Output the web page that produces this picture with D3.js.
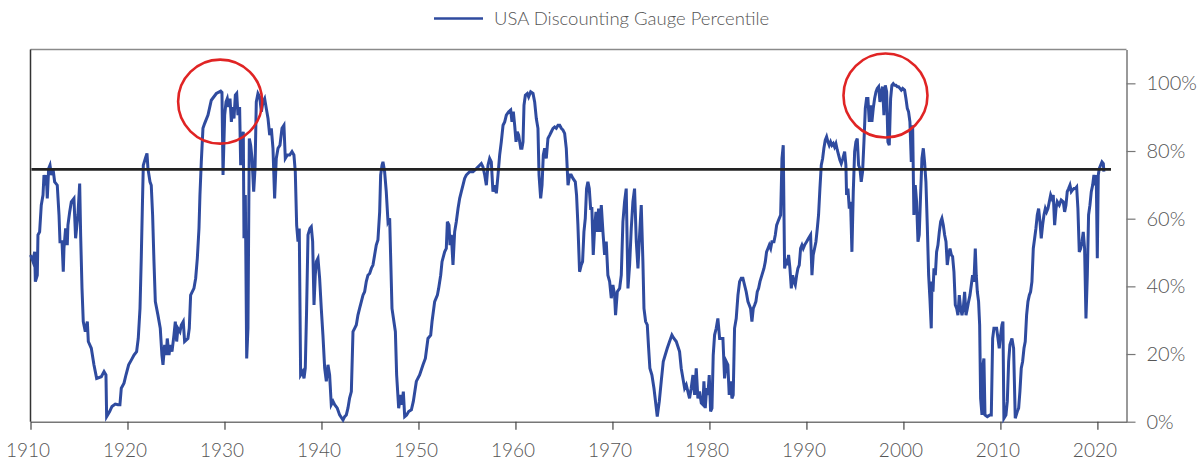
<!DOCTYPE html>
<html>
<head>
<meta charset="utf-8">
<script src="https://cdn.jsdelivr.net/npm/d3@7"></script>
<style>
  body { margin: 0; background: #fff; }
  .tick text { font-family: Lato, "Open Sans", sans-serif; font-weight: 300; fill: #555; }
</style>
</head>
<body>
<div id="gauge_chart"></div>
<script>
// data: [year, percentile]
const seg1910 = [
  [1910.01,49.3],[1910.26,47.3],[1910.43,50.2],[1910.50,41.4],[1910.70,43.3],[1910.77,55.2],[1910.94,56.1],
  [1911.11,64.0],[1911.29,67.0],[1911.39,72.9],[1911.53,69.9],[1911.63,72.9],[1911.73,66.0],[1911.87,74.8],
  [1912.01,75.8],[1912.15,72.9],[1912.32,74.8],[1912.49,70.9],[1912.76,69.9],[1912.94,61.1],[1913.04,53.2],
  [1913.25,53.2],[1913.38,44.3],[1913.45,51.2],[1913.62,57.1],[1913.79,52.2],[1913.86,58.1],[1914.04,62.0],
  [1914.21,65.0],[1914.48,66.0],[1914.65,54.2],[1914.89,61.1],[1915.07,70.4],[1915.17,55.2],[1915.31,39.4],
  [1915.44,29.6],[1915.65,26.6],[1915.86,29.6],[1915.96,23.7],[1916.27,21.7],[1916.54,16.8],[1916.82,12.8],
  [1917.30,13.3],[1917.58,14.8],[1917.78,13.8],[1917.85,1.5],[1918.16,3.0],[1918.40,4.5],[1918.74,5.2],
  [1919.02,5.0],[1919.22,5.0],[1919.36,9.9],[1919.64,11.4],[1919.84,13.8],[1920.12,16.8],[1920.39,18.2],
  [1920.67,19.7],[1920.94,20.7],[1921.11,24.6],[1921.29,33.5],[1921.42,48.3],[1921.53,63.0],[1921.63,75.8],
  [1921.84,77.8],[1922.01,79.3],[1922.11,74.8],[1922.32,70.9],[1922.45,69.9],[1922.59,61.1],[1922.73,47.3],
  [1922.87,35.5],[1923.14,31.5],[1923.38,27.6],[1923.55,19.7],[1923.66,16.8],[1923.83,22.7],[1924.00,19.7],
  [1924.10,24.6],[1924.28,19.7],[1924.41,22.7],[1924.59,20.7],[1924.79,25.6],[1924.93,29.6],[1925.07,23.7],
  [1925.20,27.6],[1925.41,26.6],[1925.55,28.6],[1925.75,29.6],[1925.89,23.7],[1926.23,24.6],[1926.37,27.6],
  [1926.51,37.4],[1926.85,39.4],[1927.03,42.4],[1927.20,48.3],[1927.37,57.1],[1927.47,67.0],[1927.61,76.8],
  [1927.78,86.7],[1927.95,88.1],[1928.30,90.6]
];

const seg1928 = [
  [1928.64,95.0],[1929.16,97.0],[1929.61,97.7],[1929.74,97.3],[1929.85,72.9],[1930.02,90.6],[1930.16,94.5],
  [1930.29,95.5],[1930.43,93.0],[1930.57,95.5],[1930.71,88.6],[1930.84,93.0],[1930.98,89.6],[1931.12,96.5],
  [1931.26,97.0],[1931.39,90.6],[1931.56,93.0],[1931.67,75.8],[1931.81,83.7],[1931.94,85.7],[1932.01,54.2],
  [1932.15,67.0],[1932.29,18.7],[1932.42,27.6],[1932.56,83.7],[1932.70,81.7],[1932.84,77.8],[1933.01,68.0],
  [1933.15,74.8],[1933.28,94.5],[1933.45,97.0],[1933.63,96.0],[1933.80,91.6],[1933.97,94.5],[1934.14,95.5],
  [1934.31,92.6],[1934.49,89.6],[1934.66,84.7],[1934.83,86.7],[1935.00,80.8],[1935.17,66.0],[1935.34,77.8],
  [1935.52,80.8],[1935.72,81.7],[1935.93,86.7],[1936.13,87.6],[1936.27,77.8],[1936.48,78.8],[1936.72,78.8],
  [1936.96,79.8],[1937.16,78.8],[1937.30,73.9],[1937.44,58.1],[1937.58,53.2],[1937.71,57.1],[1937.85,13.8],
  [1938.06,14.8],[1938.20,12.8],[1938.33,15.8],[1938.47,33.5],[1938.61,55.2],[1938.81,57.1],[1938.95,57.6],
  [1939.09,53.2],[1939.23,34.5],[1939.36,43.3],[1939.47,47.3],[1939.64,48.3],[1939.81,42.4],[1939.98,33.5],
  [1940.15,25.6],[1940.33,15.8],[1940.50,11.9],[1940.67,16.8],[1940.84,13.8],[1941.01,5.0],[1941.19,6.0],
  [1941.36,5.0],[1941.63,4.0],[1941.87,2.0],[1942.22,0.5],[1942.39,1.5],[1942.56,2.0],[1942.73,4.0],
  [1942.90,7.0],[1943.08,8.9],[1943.25,26.6],[1943.42,27.6],[1943.59,28.6],[1943.76,31.5],[1943.93,33.5],
  [1944.11,35.5],[1944.28,37.4],[1944.45,38.4],[1944.62,41.4],[1944.79,43.3],[1944.97,43.8],[1945.14,45.3],
  [1945.31,46.3],[1945.48,49.3],[1945.65,52.2],[1945.82,53.7],[1946.00,62.0],[1946.10,72.9],[1946.24,75.8],
  [1946.34,76.8],[1946.51,73.9],[1946.68,68.0],[1946.86,59.1],[1947.03,60.1]
];

const seg1947 = [
  [1947.27,33.5],[1947.62,26.6],[1947.75,13.8],[1947.96,4.0],[1948.17,7.9],[1948.30,5.0],[1948.44,8.9],
  [1948.58,1.5],[1948.78,2.0],[1948.99,3.0],[1949.27,3.5],[1949.47,6.0],[1949.78,11.9],[1950.12,13.8],
  [1950.47,16.8],[1950.71,18.7],[1950.98,24.6],[1951.26,25.6],[1951.40,29.6],[1951.67,35.5],[1951.95,37.4],
  [1952.08,39.4],[1952.29,43.3],[1952.43,47.3],[1952.70,50.2],[1952.87,51.2],[1952.98,59.1],[1953.15,58.1],
  [1953.25,52.2],[1953.39,55.2],[1953.56,46.3],[1953.73,56.1],[1953.90,59.1],[1954.08,63.0],[1954.25,66.0],
  [1954.42,68.0],[1954.59,69.9],[1954.76,71.9],[1954.93,72.9],[1955.28,73.9],[1955.62,73.9],[1955.97,74.8],
  [1956.31,75.8],[1956.48,76.3],[1956.65,75.3],[1956.83,72.9],[1957.00,69.9],[1957.17,75.8],[1957.34,77.8],
  [1957.51,76.8],[1957.68,68.0],[1957.86,69.9],[1958.03,67.5],[1958.20,72.9],[1958.37,78.8],[1958.54,82.7],
  [1958.72,87.6],[1958.89,88.6],[1959.06,90.6],[1959.30,91.6],[1959.51,92.1],[1959.64,88.6],[1959.78,91.6],
  [1959.92,87.6],[1960.06,82.7],[1960.19,85.7],[1960.33,84.7],[1960.54,80.8],[1960.67,80.8],[1960.78,82.7],
  [1960.88,93.5],[1961.02,96.5],[1961.22,97.0],[1961.36,96.0],[1961.57,97.5],[1961.81,97.0],[1961.98,94.5],
  [1962.15,89.6],[1962.32,86.7],[1962.43,72.9],[1962.60,66.0],[1962.74,69.9],[1962.87,78.8],[1963.01,80.8],
  [1963.18,77.8],[1963.35,83.7],[1963.53,84.7],[1963.70,85.7],[1963.87,86.7],[1964.04,87.1],[1964.21,86.7],
  [1964.39,87.6],[1964.56,87.6],[1964.73,86.7],[1964.90,86.2],[1965.07,85.2],[1965.24,80.8],[1965.42,69.9],
  [1965.59,72.9]
];

const seg1965 = [
  [1965.75,72.9],[1965.93,71.9],[1966.17,70.9],[1966.30,67.0],[1966.44,58.1],[1966.61,44.3],[1966.78,46.3],
  [1966.92,47.3],[1967.06,56.1],[1967.20,60.1],[1967.33,68.9],[1967.47,70.9],[1967.61,68.9],[1967.75,63.0],
  [1967.88,63.0],[1968.02,49.3],[1968.16,57.1],[1968.30,62.0],[1968.43,56.1],[1968.57,63.0],[1968.71,56.1],
  [1968.85,64.0],[1969.02,56.1],[1969.19,49.3],[1969.36,53.2],[1969.53,43.3],[1969.71,41.4],[1969.88,36.5],
  [1970.05,40.4],[1970.22,37.4],[1970.32,31.5],[1970.50,38.4],[1970.74,39.4],[1970.91,43.3],[1971.08,59.1],
  [1971.25,65.0],[1971.42,68.9],[1971.60,39.4],[1971.77,46.3],[1971.94,57.1],[1972.11,65.0],[1972.28,68.9],
  [1972.46,53.2],[1972.63,45.3],[1972.80,55.2],[1972.97,64.0],[1973.14,47.3],[1973.25,33.5],[1973.42,29.6],
  [1973.59,28.6],[1973.73,21.7],[1973.86,15.8],[1974.07,13.8],[1974.28,9.9],[1974.48,5.0],[1974.62,1.5],
  [1974.83,6.0],[1975.03,11.9],[1975.24,17.8],[1975.44,19.7],[1975.65,21.7],[1975.89,23.7],[1976.13,25.6],
  [1976.34,24.6],[1976.58,23.7],[1976.92,20.7],[1977.09,15.8],[1977.27,12.8],[1977.44,9.9],[1977.61,10.9],
  [1977.78,8.9],[1977.95,6.9],[1978.12,9.9],[1978.30,13.8],[1978.47,7.9],[1978.64,15.8],[1978.81,6.9],
  [1978.98,8.9],[1979.16,5.5],[1979.33,5.0],[1979.43,11.9],[1979.57,4.0],[1979.71,9.9],[1979.84,7.9],
  [1979.98,13.8],[1980.12,3.0],[1980.26,4.0],[1980.39,19.7],[1980.53,25.6],[1980.70,27.6],[1980.87,30.5],
  [1981.05,24.6],[1981.22,24.6],[1981.39,24.6],[1981.56,12.8],[1981.73,17.8],[1981.90,16.8],[1982.04,7.9],
  [1982.18,11.9],[1982.32,6.9],[1982.45,7.9],[1982.59,27.6],[1982.76,30.5],[1982.94,37.4],[1983.11,41.4],
  [1983.28,42.4],[1983.45,42.4],[1983.62,40.4],[1983.79,38.4],[1983.97,35.5]
];

const seg1984 = [
  [1984.24,33.5],[1984.38,29.6],[1984.52,33.5],[1984.66,34.5],[1984.79,35.5],[1984.93,38.4],[1985.07,39.4],
  [1985.21,41.4],[1985.41,43.3],[1985.62,45.3],[1985.76,47.3],[1985.89,50.2],[1986.03,51.2],[1986.17,52.2],
  [1986.31,51.2],[1986.44,53.2],[1986.65,53.2],[1986.79,55.2],[1986.93,58.1],[1987.06,59.1],[1987.20,60.1],
  [1987.34,61.1],[1987.48,77.8],[1987.61,81.7],[1987.68,63.0],[1987.75,45.3],[1987.89,47.3],[1988.03,46.3],
  [1988.16,49.3],[1988.30,45.3],[1988.44,39.4],[1988.58,43.3],[1988.71,41.4],[1988.85,40.4],[1988.99,43.3],
  [1989.12,45.3],[1989.26,46.3],[1989.40,51.2],[1989.54,52.2],[1989.67,51.2],[1989.81,52.2],[1990.02,53.2],
  [1990.22,54.2],[1990.43,55.2],[1990.57,43.3],[1990.70,49.3],[1990.84,51.2],[1990.98,53.2],[1991.12,57.1],
  [1991.25,61.1],[1991.39,68.9],[1991.53,75.8],[1991.67,77.8],[1991.80,80.8],[1991.94,83.2],[1992.08,84.2],
  [1992.22,82.7],[1992.35,81.7],[1992.49,82.7],[1992.63,81.7],[1992.77,82.2],[1992.90,81.2],[1993.04,82.2],
  [1993.18,80.3],[1993.32,78.8],[1993.45,77.3],[1993.59,76.3],[1993.76,77.8],[1993.94,79.8],[1994.07,75.8],
  [1994.14,67.0],[1994.28,68.9],[1994.42,63.0],[1994.55,65.0],[1994.69,50.2],[1994.83,68.0],[1994.97,79.8],
  [1995.10,82.7],[1995.24,83.7],[1995.38,75.8],[1995.52,74.8],[1995.65,70.9],[1995.79,73.9],[1995.93,82.7],
  [1996.07,92.6],[1996.20,95.5],[1996.34,95.5],[1996.48,88.6],[1996.62,93.5],[1996.75,88.6],[1996.89,92.6],
  [1997.03,95.5],[1997.17,97.5],[1997.30,98.5],[1997.44,99.0],[1997.58,94.5],[1997.72,97.5],[1997.85,99.0],
  [1997.99,90.6],[1998.13,99.4],[1998.27,97.5],[1998.40,82.7],[1998.54,81.7],[1998.68,95.5],[1998.81,99.4],
  [1998.95,99.9],[1999.09,99.4],[1999.23,99.4],[1999.37,99.0],[1999.50,99.0],[1999.64,98.5],[1999.78,98.0],
  [1999.92,98.5],[2000.12,98.0],[2000.26,95.5],[2000.40,92.6],[2000.53,91.6],[2000.67,88.6],[2000.81,76.8],
  [2000.95,87.6],[2001.08,61.1],[2001.22,69.9],[2001.36,65.0],[2001.50,53.2],[2001.63,55.2],[2001.77,67.0],
  [2001.91,77.8],[2002.05,80.8],[2002.18,76.8],[2002.32,70.9],[2002.46,58.1],[2002.60,43.3],[2002.73,36.5],
  [2002.87,27.6]
];

const seg2003 = [
  [2002.94,41.4],[2003.05,38.4],[2003.15,45.3],[2003.29,43.3],[2003.42,50.2],[2003.56,52.2],[2003.70,56.1],
  [2003.84,59.1],[2003.97,60.1],[2004.11,58.1],[2004.25,55.2],[2004.39,53.2],[2004.52,46.3],[2004.66,49.3],
  [2004.80,51.2],[2004.94,49.3],[2005.07,48.8],[2005.21,44.3],[2005.35,34.5],[2005.49,33.5],[2005.62,31.5],
  [2005.76,37.4],[2005.90,33.5],[2006.04,31.5],[2006.17,33.5],[2006.31,38.4],[2006.45,31.5],[2006.59,33.5],
  [2006.72,35.5],[2006.86,37.4],[2007.00,40.4],[2007.13,43.3],[2007.27,41.4],[2007.41,51.2],[2007.51,43.3],
  [2007.62,38.4],[2007.75,35.5],[2007.86,28.6],[2007.96,6.9],[2008.10,2.0],[2008.20,16.8],[2008.30,18.7],
  [2008.41,2.0],[2008.65,1.5],[2008.92,2.0],[2009.06,2.0],[2009.20,24.6],[2009.33,27.6],[2009.61,27.6],
  [2009.75,24.6],[2009.88,21.7],[2010.02,25.6],[2010.16,28.6],[2010.26,29.6],[2010.36,1.0],[2010.57,2.0],
  [2010.71,6.0],[2010.85,17.8],[2010.98,22.7],[2011.19,24.6],[2011.36,21.7],[2011.53,1.0],[2011.74,3.0],
  [2011.88,4.0],[2012.01,8.9],[2012.15,15.8],[2012.29,17.8],[2012.43,21.7],[2012.56,23.7],[2012.70,31.5],
  [2012.84,35.5],[2012.98,37.4],[2013.11,38.4],[2013.25,41.4],[2013.39,51.2],[2013.53,54.2],[2013.66,57.1],
  [2013.80,61.1],[2013.94,63.0],[2014.08,59.1],[2014.21,54.2],[2014.35,58.1],[2014.49,61.1],[2014.63,63.0],
  [2014.76,62.0],[2014.90,63.0],[2015.04,65.0],[2015.18,67.0],[2015.31,66.0],[2015.45,67.0],[2015.59,58.1],
  [2015.73,63.0],[2015.86,65.0],[2016.07,64.0],[2016.27,65.5],[2016.48,65.0],[2016.62,62.0],[2016.76,64.0],
  [2016.89,68.0],[2017.03,68.9],[2017.17,69.9],[2017.31,68.0],[2017.44,68.5],[2017.58,68.9],[2017.72,68.9],
  [2017.86,69.4],[2017.99,63.0],[2018.13,50.2],[2018.27,51.2],[2018.41,53.2],[2018.54,56.1],[2018.68,51.2],
  [2018.82,30.5],[2018.96,43.3],[2019.09,61.1],[2019.23,64.0],[2019.37,68.0],[2019.51,69.9],[2019.64,72.9],
  [2019.78,69.9],[2019.88,72.9],[2019.99,48.3],[2020.09,72.9],[2020.19,74.8],[2020.33,75.8],[2020.47,76.8],
  [2020.61,76.3],[2020.67,73.9]
];

const xTicks = [1910, 1920, 1930, 1940, 1950, 1960, 1970, 1980, 1990, 2000, 2010, 2020];
const yTicks = [0, 20, 40, 60, 80, 100];
const threshold = 74.6;             // black reference line
const thresholdSpan = [1910.1, 2021.4];
const highlights = [[1929.55, 94.6], [1998.15, 96.4]];   // red circle centres
const seriesName = "USA Discounting Gauge Percentile";

const data = [].concat(seg1910, seg1928, seg1947, seg1965, seg1984, seg2003);

const width = 1200, height = 461;
const margin = {top: 49.5, right: 73.5, bottom: 39.3, left: 30.5};
const innerW = width - margin.left - margin.right,
      innerH = height - margin.top - margin.bottom;

const svg = d3.select("#gauge_chart").append("svg")
  .attr("width", width)
  .attr("height", height);

const g = svg.append("g")
  .attr("transform", "translate(" + margin.left + "," + margin.top + ")");

const x = d3.scaleLinear().domain([1910, 2023]).range([0, innerW]);
const y = d3.scaleLinear().domain([0, 110]).range([innerH, 0]);

// frame: top + left
g.append("line")
  .attr("x1", 0).attr("x2", innerW).attr("y1", 0).attr("y2", 0)
  .attr("stroke", "#8a8a8a").attr("stroke-width", 1.5);
g.append("line")
  .attr("x1", 0).attr("x2", 0).attr("y1", 0).attr("y2", innerH)
  .attr("stroke", "#333").attr("stroke-width", 1.5);

// x axis
const xAxis = g.append("g")
  .attr("transform", "translate(0," + innerH + ")")
  .call(d3.axisBottom(x).tickValues(xTicks).tickFormat(d3.format("d")).tickSizeInner(8).tickSizeOuter(0));
xAxis.select(".domain").attr("stroke", "#777").attr("stroke-width", 1.5);
xAxis.selectAll(".tick line").attr("stroke", "#444").attr("stroke-width", 1.2);
xAxis.selectAll(".tick text")
  .attr("y", 22).attr("dx", "-3")
  .style("font-size", "19px");

// y axis on the right
const yAxis = g.append("g")
  .attr("transform", "translate(" + innerW + ",0)")
  .call(d3.axisRight(y).tickValues(yTicks).tickFormat(d => d + "%").tickSizeInner(9).tickSizeOuter(0));
yAxis.select(".domain").attr("stroke", "#777").attr("stroke-width", 1.5);
yAxis.selectAll(".tick line").attr("stroke", "#777").attr("stroke-width", 1.2);
yAxis.selectAll(".tick text")
  .attr("x", 20)
  .style("font-size", "20px");

// series line
const line = d3.line()
  .x(d => x(d[0]))
  .y(d => y(d[1]));

g.append("path")
  .datum(data)
  .attr("fill", "none")
  .attr("stroke", "#2f4b9f")
  .attr("stroke-width", 3)
  .attr("stroke-linejoin", "miter")
  .attr("stroke-miterlimit", 4)
  .attr("d", line);

// threshold line
g.append("line")
  .attr("x1", x(thresholdSpan[0])).attr("x2", x(thresholdSpan[1]))
  .attr("y1", y(threshold)).attr("y2", y(threshold))
  .attr("stroke", "#222").attr("stroke-width", 2.8);

// red circles
g.selectAll(".highlight")
  .data(highlights)
  .enter().append("circle")
  .attr("class", "highlight")
  .attr("cx", d => x(d[0]))
  .attr("cy", d => y(d[1]))
  .attr("r", 42)
  .attr("fill", "none")
  .attr("stroke", "#e02424")
  .attr("stroke-width", 2.6);

// legend
const legend = svg.append("g").attr("transform", "translate(434,18.5)");
legend.append("line")
  .attr("x1", 0).attr("x2", 49).attr("y1", 0).attr("y2", 0)
  .attr("stroke", "#2f4b9f").attr("stroke-width", 2.6);
legend.append("text")
  .attr("x", 60).attr("y", 0).attr("dy", "0.36em")
  .style("font-family", "Lato, 'Open Sans', sans-serif")
  .style("font-weight", 300)
  .style("font-size", "18.5px")
  .attr("fill", "#555")
  .text(seriesName);
</script>
</body>
</html>
